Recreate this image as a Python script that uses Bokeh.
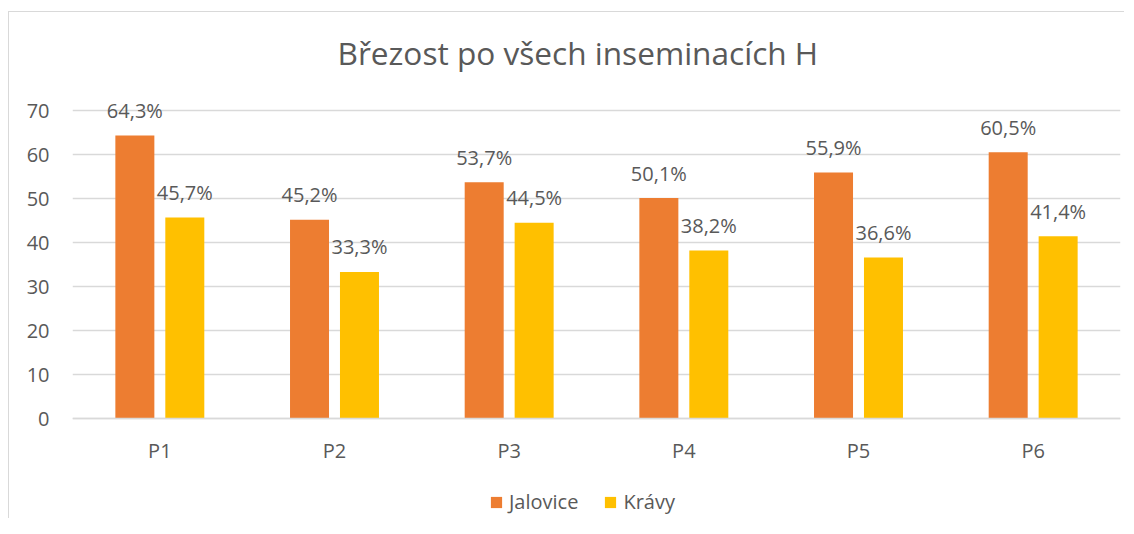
from bokeh.plotting import figure
from bokeh.models import (ColumnDataSource, FactorRange, Range1d, Legend, LegendItem,
                          FixedTicker)
from bokeh.transform import dodge
from bokeh.core.properties import value
from bokeh.embed import file_html
from bokeh.resources import INLINE

categories = ["P1", "P2", "P3", "P4", "P5", "P6"]
jalovice = [64.3, 45.2, 53.7, 50.1, 55.9, 60.5]
kravy = [45.7, 33.3, 44.5, 38.2, 36.6, 41.4]
series_names = ["Jalovice", "Krávy"]
y_ticks = [0, 10, 20, 30, 40, 50, 60, 70]
title_text = "Březost po všech inseminacích H"

ORANGE = "#ED7D31"
YELLOW = "#FFC000"
TXT = "#595959"
GRID = "#d9d9d9"
FONT = "Open Sans"


def fmt(v):
    return f"{v:.1f}".replace(".", ",") + "%"


src = ColumnDataSource(dict(
    cat=categories,
    jal=jalovice,
    kra=kravy,
    jal_lbl=[fmt(v) for v in jalovice],
    kra_lbl=[fmt(v) for v in kravy],
))

# frame extends below zero so the legend can sit inside it; the x axis is pinned at 0
p = figure(
    width=1124, height=518,
    x_range=FactorRange(*categories, range_padding=0),
    y_range=Range1d(-22.727, 73.64),
    output_backend="svg", toolbar_location=None,
    min_border_left=72, min_border_right=4,
    min_border_top=94, min_border_bottom=0,
)
p.border_fill_alpha = 0
p.outline_line_color = None
p.styles = {
    "background": "linear-gradient(#d9d9d9,#d9d9d9) 8px 11px / 100% 1px no-repeat, "
                  "linear-gradient(#d9d9d9,#d9d9d9) 8px 11px / 1px 100% no-repeat, white",
}

# title
p.title.text = title_text
p.title.align = "left"
p.title.offset = 265
p.title.text_font = FONT
p.title.text_font_size = "31.6px"
p.title.text_font_style = "normal"
p.title.text_color = TXT
p.title.standoff = 41

offset = 0.143
bw = 0.2233
r1 = p.vbar(x=dodge("cat", -offset, range=p.x_range), top="jal", width=bw,
            source=src, color=ORANGE, line_color=None)
r2 = p.vbar(x=dodge("cat", offset, range=p.x_range), top="kra", width=bw,
            source=src, color=YELLOW, line_color=None)

for col, lbl, off in (("jal", "jal_lbl", -offset), ("kra", "kra_lbl", offset)):
    p.text(x=dodge("cat", off, range=p.x_range), y=col, text=lbl, source=src,
           text_font=value(FONT), text_font_size="20px", text_color=TXT,
           text_align="center", text_baseline="alphabetic", y_offset=-25)

# axes
p.yaxis.ticker = FixedTicker(ticks=y_ticks)
p.yaxis.axis_line_color = None
p.yaxis.major_tick_line_color = None
p.yaxis.minor_tick_line_color = None
p.yaxis.major_label_standoff = 17
p.yaxis.major_label_text_font = FONT
p.yaxis.major_label_text_font_size = "20px"
p.yaxis.major_label_text_color = TXT

p.xaxis.fixed_location = 0
p.xaxis.axis_line_color = GRID
p.xaxis.axis_line_width = 1.5
p.xaxis.major_tick_line_color = None
p.xaxis.minor_tick_line_color = None
p.xaxis.major_label_standoff = 12
p.xaxis.major_label_text_font = FONT
p.xaxis.major_label_text_font_size = "20px"
p.xaxis.major_label_text_color = TXT

p.xgrid.grid_line_color = None
p.ygrid.grid_line_color = GRID
p.ygrid.grid_line_width = 1.3

legend = Legend(items=[LegendItem(label=series_names[0], renderers=[r1]),
                       LegendItem(label=series_names[1], renderers=[r2])],
                location=(417, 3), orientation="horizontal",
                glyph_width=14, glyph_height=14, label_standoff=6, spacing=25,
                label_height=14,
                padding=0, margin=0, border_line_color=None,
                background_fill_alpha=0,
                label_text_font=FONT, label_text_font_size="20px",
                label_text_color=TXT)
p.add_layout(legend, "center")

open("out.html", "w").write(file_html(p, INLINE))
